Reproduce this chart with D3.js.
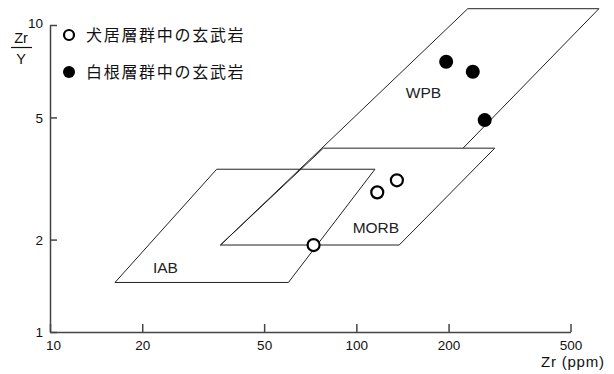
<!DOCTYPE html>
<html>
<head>
<meta charset="utf-8">
<script src="https://cdn.jsdelivr.net/npm/d3@7"></script>
<style>
  body { margin: 0; background: #fff; }
  svg { display: block; font-family: "Liberation Sans", Arial, sans-serif; }
  .tick text { font-size: 13.5px; fill: #111; }
  .field { fill: none; stroke: #222; stroke-width: 1; }
</style>
</head>
<body>
<script>
// tick values
var xTicks = [10, 20, 50, 100, 200, 500];
var yTicks = [1, 2, 5, 10];

// discrimination fields [Zr, Zr/Y]
var iabField = [[16.3, 1.45], [35, 3.39], [115, 3.39], [60, 1.45]];
var morbField = [[36, 1.92], [78, 3.97], [283, 3.97], [138, 1.92]];
var wpbField = [[36, 1.92], [231, 11.3], [619, 11.3], [223, 3.97]];
var fieldNames = ["IAB", "MORB", "WPB"];
var fieldLabelZr = [23.8, 115.8, 165.6];
var fieldLabelRatio = [1.62, 2.19, 6.05];

// samples
var inuiZr = [72.5, 117, 135.6];
var inuiRatio = [1.92, 2.85, 3.12];
var shiraneZr = [196.4, 239.9, 262.4];
var shiraneRatio = [7.59, 7.04, 4.90];

var legendNames = ["犬居層群中の玄武岩", "白根層群中の玄武岩"];

var width = 614,
    height = 374;

var svg = d3.select("body")
    .append("svg")
    .attr("width", width)
    .attr("height", height);

var x = d3.scaleLog().domain([10, 500]).range([50, 570.5]);
var y = d3.scaleLog().domain([1, 10]).range([332, 25]);

var line = d3.line()
    .x(function(d){ return x(d[0]); })
    .y(function(d){ return y(d[1]); });

//fields
svg.append("path").datum(iabField).attr("class", "field")
    .attr("d", line(iabField) + "Z");
svg.append("path").datum(morbField).attr("class", "field")
    .attr("d", line(morbField) + "Z");
svg.append("path").datum(wpbField).attr("class", "field")
    .attr("d", line(wpbField));

svg.selectAll(".fieldLabel")
    .data(fieldNames)
    .enter()
    .append("text")
    .attr("class", "fieldLabel")
    .attr("x", function(d, i){ return x(fieldLabelZr[i]); })
    .attr("y", function(d, i){ return y(fieldLabelRatio[i]); })
    .attr("dy", "0.36em")
    .attr("text-anchor", "middle")
    .style("font-size", "15.5px")
    .style("fill", "#222")
    .text(function(d){ return d; });

//axes
var xAxis = svg.append("g")
    .attr("transform", "translate(0,332)")
    .call(d3.axisBottom(x)
        .tickValues(xTicks)
        .tickFormat(d3.format("d"))
        .tickSizeInner(-8)
        .tickSizeOuter(0)
        .tickPadding(8));
xAxis.selectAll(".tick text")
    .attr("dx", function(d){ return d === 10 ? 3 : 0; });

var yAxis = svg.append("g")
    .attr("transform", "translate(50,0)")
    .call(d3.axisLeft(y)
        .tickValues(yTicks)
        .tickFormat(d3.format("d"))
        .tickSizeInner(-7)
        .tickSizeOuter(0)
        .tickPadding(7));
yAxis.selectAll(".tick text")
    .attr("dy", function(d){ return d === 10 ? "0.15em" : "0.36em"; });

svg.selectAll("g").attr("font-family", "'Liberation Sans', Arial, sans-serif");

svg.selectAll(".domain, .tick line")
    .attr("stroke", "#444")
    .attr("stroke-width", 1.5);

//axis titles
svg.append("text")
    .attr("x", 604).attr("y", 367)
    .attr("text-anchor", "end")
    .attr("textLength", 63)
    .style("font-size", "15px")
    .style("fill", "#111")
    .text("Zr (ppm)");

svg.append("text")
    .attr("x", 21).attr("y", 43)
    .attr("text-anchor", "middle")
    .style("font-size", "14.5px")
    .style("fill", "#111")
    .text("Zr");
svg.append("line")
    .attr("x1", 11).attr("x2", 32)
    .attr("y1", 47.5).attr("y2", 47.5)
    .attr("stroke", "#111").attr("stroke-width", 1.2);
svg.append("text")
    .attr("x", 21).attr("y", 64)
    .attr("text-anchor", "middle")
    .style("font-size", "14.5px")
    .style("fill", "#111")
    .text("Y");

//points
svg.selectAll(".inui")
    .data(inuiZr)
    .enter()
    .append("circle")
    .attr("class", "inui")
    .attr("cx", function(d){ return x(d); })
    .attr("cy", function(d, i){ return y(inuiRatio[i]); })
    .attr("r", 6)
    .attr("fill", "#fff")
    .attr("stroke", "#000")
    .attr("stroke-width", 2.2);

svg.selectAll(".shirane")
    .data(shiraneZr)
    .enter()
    .append("circle")
    .attr("class", "shirane")
    .attr("cx", function(d){ return x(d); })
    .attr("cy", function(d, i){ return y(shiraneRatio[i]); })
    .attr("r", 7)
    .attr("fill", "#000");

//legend
var legend = svg.selectAll(".legend")
    .data(legendNames)
    .enter()
    .append("g")
    .attr("class", "legend")
    .attr("transform", function(d, i){ return "translate(69," + (35 + i * 37) + ")"; });

legend.append("circle")
    .attr("r", function(d, i){ return i === 0 ? 5 : 6; })
    .attr("fill", function(d, i){ return i === 0 ? "#fff" : "#000"; })
    .attr("stroke", "#000")
    .attr("stroke-width", function(d, i){ return i === 0 ? 2.2 : 0; });

legend.append("text")
    .attr("x", 17)
    .attr("dy", "0.36em")
    .style("font-family", "'Noto Sans CJK JP', sans-serif")
    .style("font-size", "16px")
    .style("letter-spacing", "1.7px")
    .style("fill", "#111")
    .text(function(d){ return d; });
</script>
</body>
</html>
